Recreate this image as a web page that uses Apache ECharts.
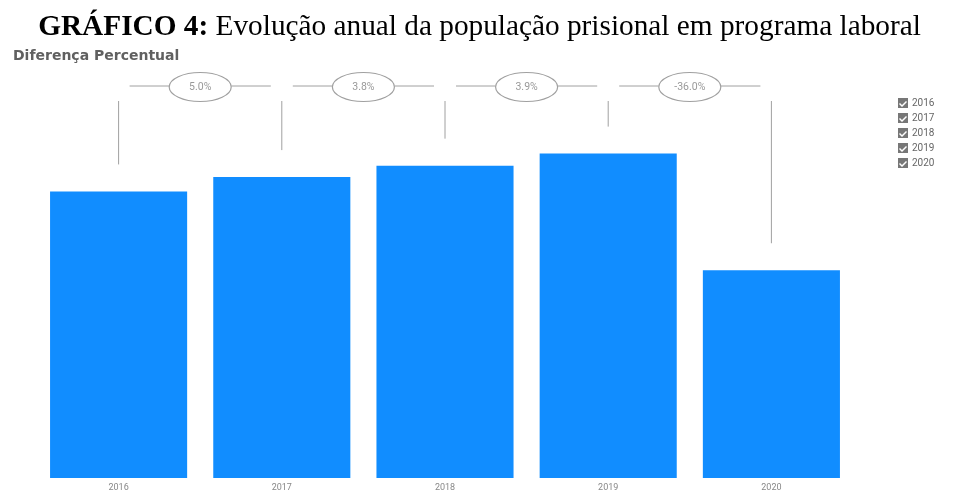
<!DOCTYPE html>
<html>
<head>
<meta charset="utf-8">
<script src="https://cdn.jsdelivr.net/npm/echarts@6/dist/echarts.min.js"></script>
<style>
  html, body { margin: 0; padding: 0; background: #fff; }
  #chart { width: 959px; height: 494px; }
</style>
</head>
<body>
<div id="chart"></div>
<script>
// ===== 数据 =====
var years = ['2016', '2017', '2018', '2019', '2020'];
var values = [100, 105.0, 109.0, 113.2, 72.5];          // índice relativo (2016 = 100)
var diffLabels = ['5.0%', '3.8%', '3.9%', '-36.0%'];    // diferença entre anos consecutivos

var BLUE = '#118DFF';
var LINE = '#a0a0a0';
var CHECK_ICON = 'path://M0,0L10,0L10,10L0,10Z M2,5L1,6L4,9L9,4L8,3L4,7Z';

var chart = echarts.init(document.getElementById('chart'));

// uma série por ano, empilhadas, para a legenda ter um item por ano
var barSeries = years.map(function (y, i) {
    var d = years.map(function (_, j) { return j === i ? values[i] : null; });
    return {
        name: y,
        type: 'bar',
        stack: 'total',
        barCategoryGap: '16%',
        itemStyle: { color: BLUE },
        data: d
    };
});

// linhas verticais acima de cada barra
var stemSeries = {
    type: 'custom',
    silent: true,
    z: 5,
    data: values.map(function (v, i) { return [i, v]; }),
    renderItem: function (params, api) {
        var p = api.coord([api.value(0), api.value(1)]);
        return {
            type: 'line',
            shape: { x1: p[0], y1: 101, x2: p[0], y2: p[1] - 27 },
            style: { stroke: LINE, lineWidth: 1 }
        };
    }
};

// ligações horizontais com a diferença percentual
var linkSeries = {
    type: 'custom',
    silent: true,
    z: 5,
    data: diffLabels.map(function (t, i) { return [i, 0, t]; }),
    renderItem: function (params, api) {
        var i = api.value(0);
        var xa = api.coord([i, 0])[0] + 11;
        var xb = api.coord([i + 1, 0])[0] - 11;
        var cx = (xa + xb) / 2, cy = 86;
        var rx = 31, ry = 14.5;
        return {
            type: 'group',
            children: [
                { type: 'line', shape: { x1: xa, y1: cy, x2: cx - rx, y2: cy }, style: { stroke: LINE, lineWidth: 1 } },
                { type: 'line', shape: { x1: cx + rx, y1: cy, x2: xb, y2: cy }, style: { stroke: LINE, lineWidth: 1 } },
                { type: 'ellipse', shape: { cx: cx, cy: cy + 1, rx: rx, ry: ry }, style: { fill: '#fff', stroke: LINE, lineWidth: 1.2 } },
                {
                    type: 'text',
                    style: {
                        x: cx, y: cy + 1, text: diffLabels[i],
                        align: 'center', verticalAlign: 'middle',
                        fill: '#999', font: '10.5px Roboto'
                    }
                }
            ]
        };
    }
};

chart.setOption({
    animation: false,
    backgroundColor: '#fff',
    title: [
        {
            left: 'center',
            top: 13,
            padding: 0,
            text: '{b|GRÁFICO 4:} Evolução anual da população prisional em programa laboral',
            textStyle: {
                fontFamily: 'Liberation Serif',
                fontSize: 29.3,
                fontWeight: 'normal',
                color: '#000',
                rich: {
                    b: { fontFamily: 'Liberation Serif', fontSize: 29.3, fontWeight: 'bold', color: '#000' }
                }
            }
        },
        {
            left: 13,
            top: 49,
            padding: 0,
            text: 'Diferença Percentual',
            textStyle: { fontFamily: 'DejaVu Sans', fontSize: 14, fontWeight: 'bold', color: '#606060' }
        }
    ],
    legend: {
        orient: 'vertical',
        left: 898,
        top: 98,
        padding: 0,
        itemWidth: 10,
        itemHeight: 10,
        itemGap: 5,
        icon: CHECK_ICON,
        selectedMode: false,
        itemStyle: { color: '#777' },
        textStyle: { fontFamily: 'Roboto', fontSize: 10, color: '#666', padding: [0, 0, 0, -1] },
        data: years
    },
    grid: { left: 37, right: 106, top: 94, bottom: 16 },
    xAxis: {
        type: 'category',
        data: years,
        axisLine: { show: false },
        axisTick: { show: false },
        axisLabel: { color: '#888', fontSize: 9, fontFamily: 'Roboto', margin: 5 }
    },
    yAxis: {
        type: 'value',
        min: 0,
        max: 134,
        show: false,
        splitLine: { show: false }
    },
    series: barSeries.concat([stemSeries, linkSeries])
});
</script>
</body>
</html>
